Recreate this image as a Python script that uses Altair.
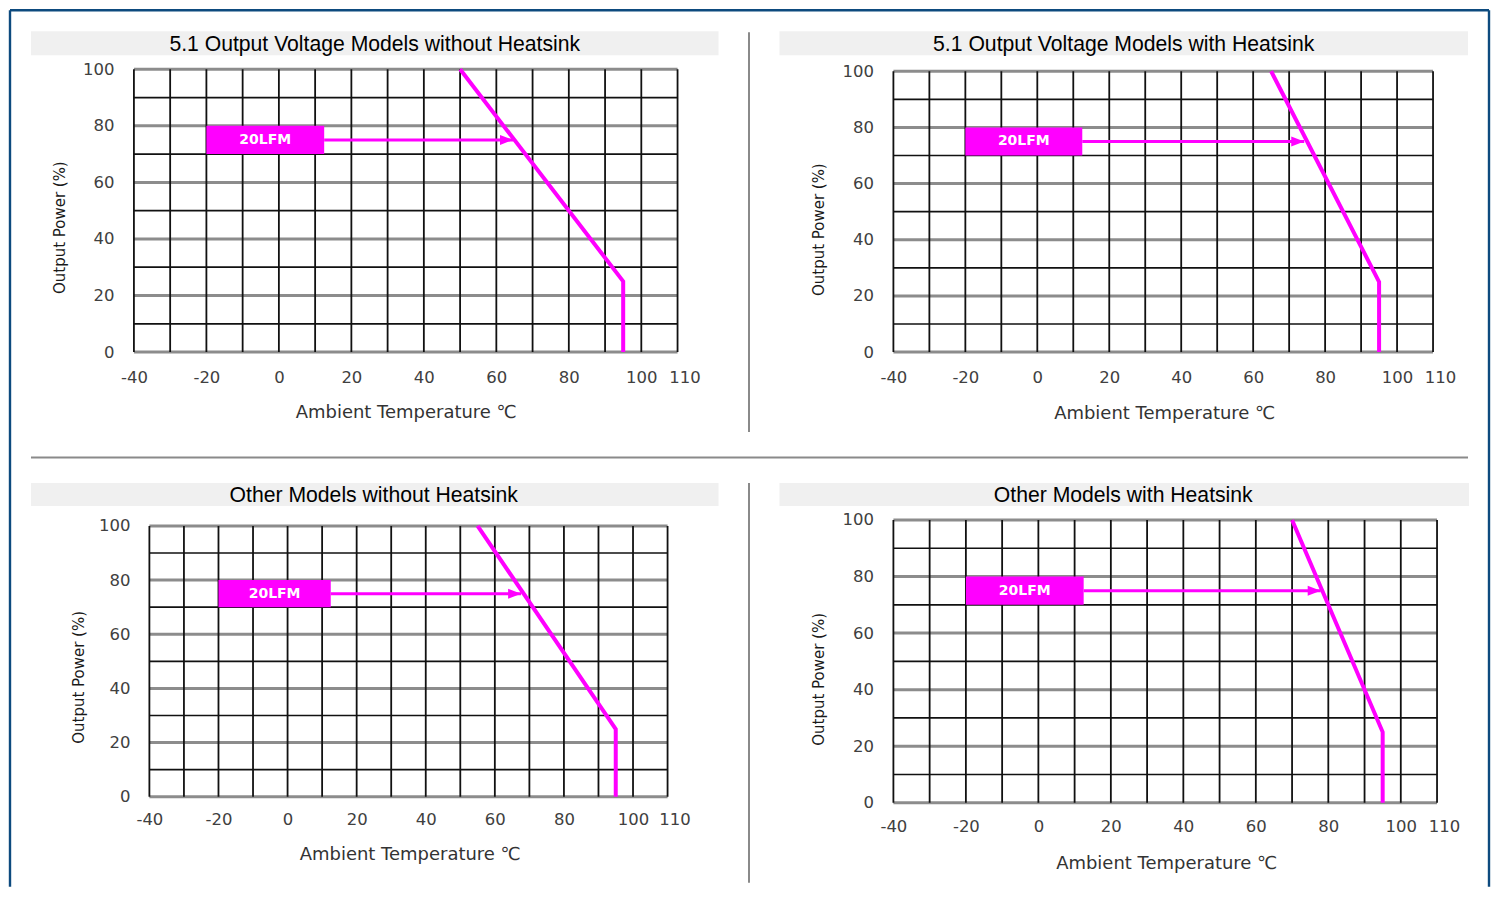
import altair as alt
import pandas as pd

# ---------------- data ----------------
panel_titles = [
    "5.1 Output Voltage Models without Heatsink",
    "5.1 Output Voltage Models with Heatsink",
    "Other Models without Heatsink",
    "Other Models with Heatsink",
]
curve_power = [100, 25, 0]                 # Output Power (%) at the curve vertices
curve_temp_p1 = [50, 95, 95]               # Ambient temperature (°C) of the vertices
curve_temp_p2 = [65, 95, 95]
curve_temp_p3 = [55, 95, 95]
curve_temp_p4 = [70, 95, 95]
curve_temps = [curve_temp_p1, curve_temp_p2, curve_temp_p3, curve_temp_p4]
arrow_tip_temp = [64.6, 74.2, 67.6, 77.9]  # where the 20LFM arrow ends
box_temp = [-20, 12.5]                     # 20LFM label box extent (°C)
box_power = [70, 80]                       # 20LFM label box extent (%)
arrow_power = 75
airflow_label = "20LFM"

x_tick_values = [-40, -20, 0, 20, 40, 60, 80, 100, 110]
y_tick_values = [0, 20, 40, 60, 80, 100]
x_grid = [-40, -30, -20, -10, 0, 10, 20, 30, 40, 50, 60, 70, 80, 90, 100, 110]
y_grid_even = [0, 20, 40, 60, 80, 100]
y_grid_odd = [10, 30, 50, 70, 90]

x_title = "Ambient Temperature ℃"
y_title = "Output Power (%)"

# ---------------- layout / style ----------------
MAGENTA = "#ff00ff"
W, H = 544, 283
layouts = [
    dict(xdom=[-40, 110], ydom=[0, 100], bar=(-103, 585, -38, -14), tcx=241, tby=-18,
         ylp=20, ytx=-66, yty=158, xlp=17, xtx=272, xty=51.6),
    dict(xdom=[-40, 111.11], ydom=[0, 100.71], bar=(-114, 575, -38, -14), tcx=230.5, tby=-18,
         ylp=20, ytx=-67, yty=160, xlp=17, xtx=271, xty=52.6),
    dict(xdom=[-44.48, 112.89], ydom=[-2.21, 102.21], bar=(-103, 585, -37, -14), tcx=240, tby=-17.7,
         ylp=4, ytx=-47, yty=157, xlp=9, xtx=276, xty=42.6),
    dict(xdom=[-40, 110], ydom=[0, 100], bar=(-114, 576, -37, -14), tcx=230, tby=-17.7,
         ylp=20, ytx=-67, yty=159, xlp=16, xtx=273, xty=51.6),
]

LABEL_FONT = "DejaVu Sans"
one_row = pd.DataFrame({"k": [0]})


def hrule(x0, x1, y, color, width):
    return alt.Chart(one_row).mark_rule(color=color, strokeWidth=width).encode(
        x=alt.value(x0), x2=alt.value(x1), y=alt.value(y))


def vrule(x, y0, y1, color, width):
    return alt.Chart(one_row).mark_rule(color=color, strokeWidth=width).encode(
        x=alt.value(x), y=alt.value(y0), y2=alt.value(y1))


def panel(k):
    lay = layouts[k]
    xs = alt.Scale(domain=lay["xdom"], nice=False, zero=False)
    ys = alt.Scale(domain=lay["ydom"], nice=False, zero=False)

    x_axis = alt.Axis(
        values=x_tick_values, title=x_title, ticks=False, domain=False, grid=False,
        labelExpr="'' + datum.value",
        labelFont=LABEL_FONT, labelFontSize=16.5, labelColor="#404040",
        labelPadding=lay["xlp"], labelFlush=False, labelOverlap=False,
        labelOffset={"expr": "datum.value == 110 ? 7 : 0"},
        titleFont=LABEL_FONT, titleFontSize=18, titleFontWeight="normal", titleColor="#333333",
        titleX=lay["xtx"], titleY=lay["xty"], titleBaseline="top", titleAlign="center",
    )
    y_axis = alt.Axis(
        values=y_tick_values, title=y_title, ticks=False, domain=False, grid=False,
        labelFont=LABEL_FONT, labelFontSize=16.5, labelColor="#404040",
        labelPadding=lay["ylp"], labelFlush=False, labelOverlap=False,
        titleFont="DejaVu Sans", titleFontSize=15, titleFontWeight="normal", titleColor="#1a1a1a",
        titleX=lay["ytx"], titleY=lay["yty"], titleBaseline="bottom", titleAlign="center",
    )

    def X(field):
        return alt.X(field, scale=xs, axis=x_axis)

    def Y(field):
        return alt.Y(field, scale=ys, axis=y_axis)

    bx0, bx1, by0, by1 = lay["bar"]
    title_bar = alt.Chart(one_row).mark_rect(color="#f0f0f0").encode(
        x=alt.value(bx0), x2=alt.value(bx1), y=alt.value(by0), y2=alt.value(by1))
    title_text = alt.Chart(pd.DataFrame({"t": [panel_titles[k]]})).mark_text(
        font="Liberation Sans", fontSize=21.2, color="#000000", align="center", baseline="alphabetic"
    ).encode(x=alt.value(lay["tcx"]), y=alt.value(lay["tby"]), text="t:N")

    even_df = pd.DataFrame({"p": y_grid_even, "t0": x_grid[0], "t1": x_grid[-1]})
    odd_df = pd.DataFrame({"p": y_grid_odd, "t0": x_grid[0], "t1": x_grid[-1]})
    vert_df = pd.DataFrame({"t": x_grid, "p0": y_grid_even[0], "p1": y_grid_even[-1]})

    grid_even = alt.Chart(even_df).mark_rule(color="#8c8c8c", strokeWidth=3).encode(
        y=Y("p:Q"), x=X("t0:Q"), x2="t1")
    grid_vert = alt.Chart(vert_df).mark_rule(color="#111111", strokeWidth=1.8).encode(
        x=X("t:Q"), y=Y("p0:Q"), y2="p1")
    grid_odd = alt.Chart(odd_df).mark_rule(color="#111111", strokeWidth=1.7).encode(
        y=Y("p:Q"), x=X("t0:Q"), x2="t1")

    box_df = pd.DataFrame({"t0": [box_temp[0]], "t1": [box_temp[1]],
                           "p0": [box_power[0]], "p1": [box_power[1]],
                           "tc": [(box_temp[0] + box_temp[1]) / 2], "pc": [arrow_power],
                           "lbl": [airflow_label]})
    box = alt.Chart(box_df).mark_rect(color=MAGENTA).encode(
        x=X("t0:Q"), x2="t1", y=Y("p0:Q"), y2="p1")
    box_label = alt.Chart(box_df).mark_text(
        font="DejaVu Sans", fontSize=14, fontWeight="bold", color="white",
        align="center", baseline="middle"
    ).encode(x=X("tc:Q"), y=Y("pc:Q"), text="lbl:N")

    arrow_df = pd.DataFrame({"t0": [box_temp[1]], "t1": [arrow_tip_temp[k]], "p": [arrow_power]})
    arrow_line = alt.Chart(arrow_df).mark_rule(color=MAGENTA, strokeWidth=3).encode(
        x=X("t0:Q"), x2="t1", y=Y("p:Q"))
    arrow_head = alt.Chart(arrow_df).mark_point(
        shape="M -1 -0.77 L 1 0 L -1 0.77 Z", size=169, filled=True, color=MAGENTA,
        opacity=1, strokeWidth=0, xOffset=-6.5
    ).encode(x=X("t1:Q"), y=Y("p:Q"))

    curve_df = pd.DataFrame({"t": curve_temps[k], "p": curve_power, "i": list(range(len(curve_power)))})
    curve = alt.Chart(curve_df).mark_line(color=MAGENTA, strokeWidth=4, strokeJoin="miter").encode(
        x=X("t:Q"), y=Y("p:Q"), order="i:Q")

    layers = [title_bar, title_text, grid_even, grid_vert, grid_odd,
              box, arrow_line, arrow_head, box_label, curve]

    if k == 0:
        border = "#0d4a7e"
        sep = "#8a8a8a"
        layers += [
            hrule(-124, 1356, -59, border, 2.4),
            vrule(-124, -59, 818, border, 2.4),
            vrule(1356, -59, 818, border, 2.4),
            vrule(615.5, -37, 363, sep, 2),
            hrule(-103, 1335, 388.5, sep, 2),
        ]
    if k == 2:
        layers += [vrule(615.5, -37, 363, "#8a8a8a", 2)]

    return alt.layer(*layers).properties(width=W, height=H)


chart = alt.concat(
    panel(0), panel(1), panel(2), panel(3),
    columns=2, spacing={"row": 168, "column": 216}, bounds="flush",
).properties(padding=0).configure_view(stroke="transparent")

chart.save("out.html", embed_options={"renderer": "svg", "actions": False})
